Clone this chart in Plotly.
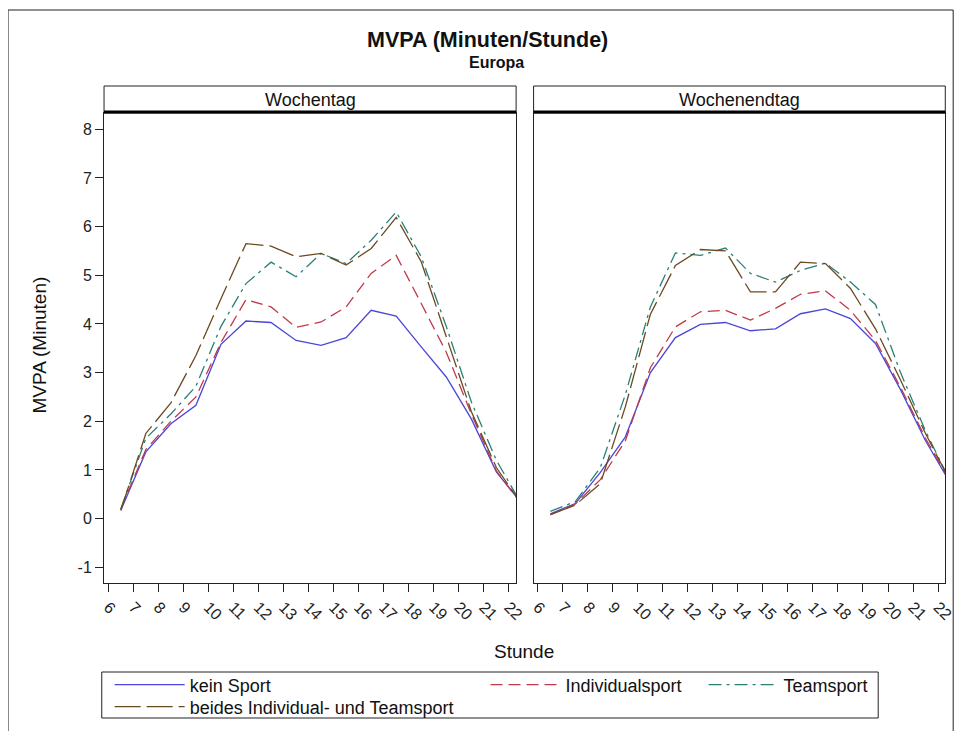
import plotly.graph_objects as go

# Stunde (Mitte der Stunde)
hours = [6.5, 7.5, 8.5, 9.5, 10.5, 11.5, 12.5, 13.5, 14.5, 15.5, 16.5, 17.5, 18.5, 19.5, 20.5, 21.5, 22.5]
x_ticks = list(range(6, 23))
y_ticks = list(range(-1, 9))
y_ticktext = [str(v) for v in y_ticks]  # "-1" mit normalem Bindestrich wie im Original

panels = ['Wochentag', 'Wochenendtag']
groups = ['kein Sport', 'Individualsport', 'Teamsport', 'beides Individual- und Teamsport']

# Wochentag
wt_kein = [0.17, 1.37, 1.95, 2.33, 3.58, 4.06, 4.03, 3.66, 3.56, 3.72, 4.28, 4.16, 3.53, 2.91, 2.05, 0.96, 0.32]
wt_indiv = [0.2, 1.42, 2.0, 2.5, 3.62, 4.5, 4.35, 3.93, 4.04, 4.35, 5.04, 5.41, 4.42, 3.42, 2.15, 0.98, 0.3]
wt_team = [0.2, 1.65, 2.15, 2.72, 3.95, 4.83, 5.27, 4.97, 5.45, 5.24, 5.72, 6.30, 5.38, 3.95, 2.4, 1.2, 0.3]
wt_beides = [0.17, 1.75, 2.38, 3.35, 4.52, 5.65, 5.6, 5.38, 5.45, 5.21, 5.55, 6.19, 5.28, 3.74, 2.2, 1.05, 0.3]

# Wochenendtag
we_kein = [0.10, 0.31, 0.95, 1.68, 3.0, 3.72, 3.99, 4.03, 3.86, 3.90, 4.21, 4.31, 4.11, 3.6, 2.65, 1.6, 0.72]
we_indiv = [0.08, 0.30, 0.8, 1.6, 3.1, 3.94, 4.25, 4.28, 4.08, 4.32, 4.61, 4.68, 4.28, 3.66, 2.7, 1.65, 0.75]
we_team = [0.15, 0.35, 1.05, 2.55, 4.35, 5.46, 5.41, 5.56, 5.04, 4.86, 5.1, 5.25, 4.86, 4.4, 3.0, 1.8, 0.75]
we_beides = [0.08, 0.28, 0.72, 2.3, 4.2, 5.2, 5.53, 5.5, 4.66, 4.66, 5.27, 5.24, 4.73, 3.9, 2.85, 1.75, 0.75]

STYLES = {
    'kein Sport': dict(color='#4a46d9', dash='solid'),
    'Individualsport': dict(color='#c03a4a', dash='12px,6px'),
    'Teamsport': dict(color='#2a7f76', dash='13px,5px,3px,5px'),
    'beides Individual- und Teamsport': dict(color='#6b4a22', dash='26px,6px'),
}
LEGENDS = {
    'kein Sport': 'legend',
    'Individualsport': 'legend2',
    'Teamsport': 'legend3',
    'beides Individual- und Teamsport': 'legend4',
}

W, H = 968, 731
OFF = 8  # Seitenrand des Browsers
FONT = 'Arial, Liberation Sans, sans-serif'

fig = go.Figure()

data = {
    'x': [wt_kein, wt_indiv, wt_team, wt_beides],
    'x2': [we_kein, we_indiv, we_team, we_beides],
}
for xa, series in data.items():
    ya = 'y' if xa == 'x' else 'y2'
    for name, vals in zip(groups, series):
        st = STYLES[name]
        fig.add_trace(go.Scatter(
            x=hours, y=vals, name=name, mode='lines',
            xaxis=xa, yaxis=ya,
            line=dict(color=st['color'], dash=st['dash'], width=1.3),
            showlegend=(xa == 'x'),
            legend=LEGENDS[name],
        ))

# Geometrie in Pixeln (Koordinaten des Originalbildes)
px_l = (102.3, 520.0)
px_r = (537.7, 955.0)
py_top, py_bot = 113.0, 582.7


def fx(p):
    return (p - OFF) / W


def fy(p):
    return 1 - (p - OFF) / H


axis_common = dict(
    showline=True, linecolor='#222', linewidth=1, mirror=True,
    ticklen=8, tickcolor='#222', showgrid=False, zeroline=False,
    tickfont=dict(family=FONT, size=16, color='#222'),
)
fig.update_layout(
    xaxis=dict(domain=[fx(px_l[0]), fx(px_l[1])], range=[5.83, 22.29], ticks='outside',
               tickvals=x_ticks, tickangle=45, anchor='y', **axis_common),
    xaxis2=dict(domain=[fx(px_r[0]), fx(px_r[1])], range=[5.83, 22.29], ticks='outside',
                tickvals=x_ticks, tickangle=45, anchor='y2', **axis_common),
    yaxis=dict(domain=[fy(py_bot), fy(py_top)], range=[-1.317, 8.335], ticks='outside',
               tickvals=y_ticks, ticktext=y_ticktext, anchor='x', **axis_common),
    yaxis2=dict(domain=[fy(py_bot), fy(py_top)], range=[-1.317, 8.335], ticks='',
                tickvals=y_ticks, showticklabels=False, anchor='x2', **axis_common),
)

# Titel, Achsentitel
annotations = [
    dict(text='<b>MVPA (Minuten/Stunde)</b>', x=fx(491), y=fy(40), font=dict(size=21.5)),
    dict(text='<b>Europa</b>', x=fx(500), y=fy(62), font=dict(size=16)),
    dict(text='Stunde', x=fx(528), y=fy(651), font=dict(size=19)),
    dict(text='MVPA (Minuten)', x=fx(36), y=fy(345), textangle=-90, font=dict(size=19)),
]
for a in annotations:
    a.update(xref='paper', yref='paper', showarrow=False, xanchor='center', yanchor='middle')
    a['font'].update(family=FONT, color='#111')
    fig.add_annotation(**a)

# Kopfstreifen der Panels
shapes = []
for (l, r), label in zip([px_l, px_r], panels):
    shapes.append(dict(type='rect', xref='paper', yref='paper', x0=fx(l), x1=fx(r),
                       y0=fy(py_top), y1=fy(86), line=dict(color='#222', width=1)))
    shapes.append(dict(type='line', xref='paper', yref='paper', x0=fx(l), x1=fx(r),
                       y0=fy(py_top - 1), y1=fy(py_top - 1), line=dict(color='#000', width=3)))
    fig.add_annotation(text=label, xref='paper', yref='paper', x=fx((l + r) / 2), y=fy(99.5),
                       xanchor='center', yanchor='middle', showarrow=False,
                       font=dict(family=FONT, size=18, color='#111'))

# Legendenrahmen und Aussenrahmen
shapes.append(dict(type='rect', xref='paper', yref='paper', x0=fx(100), x1=fx(887),
                   y0=fy(718), y1=fy(672), line=dict(color='#222', width=1)))
shapes.append(dict(type='rect', xref='paper', yref='paper', x0=fx(5), x1=fx(963),
                   y0=fy(745), y1=fy(10), line=dict(color='#222', width=1)))
fig.update_layout(shapes=shapes)

leg_font = dict(family=FONT, size=18, color='#111')
leg_pos = {
    'legend': (108, 685),
    'legend2': (489, 685),
    'legend3': (710, 685),
    'legend4': (108, 707),
}
for key, (lx, ly) in leg_pos.items():
    fig.update_layout({key: dict(x=fx(lx), y=fy(ly), xanchor='left', yanchor='middle',
                                 xref='paper', yref='paper', bgcolor='rgba(0,0,0,0)',
                                 borderwidth=0, font=leg_font, orientation='h',
                                 itemwidth=70, tracegroupgap=0)})

fig.update_layout(
    width=W, height=H,
    margin=dict(l=0, r=0, t=0, b=0),
    plot_bgcolor='white', paper_bgcolor='white',
    font=dict(family=FONT),
)

fig.write_html('out.html')
